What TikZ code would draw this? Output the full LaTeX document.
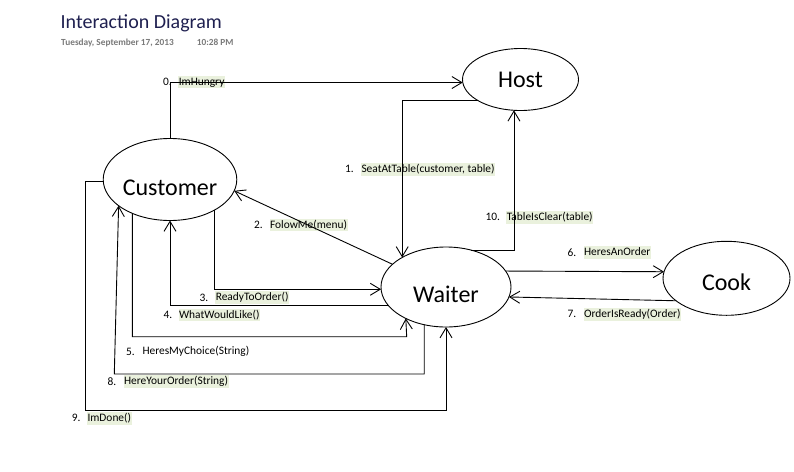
\documentclass[tikz,border=0pt]{standalone}
\usepackage{fontspec}
\setmainfont{Carlito}
\usetikzlibrary{shapes.geometric,arrows.meta}
\definecolor{hl}{HTML}{EAF1DD}
\definecolor{titlec}{HTML}{1F2050}
\definecolor{datec}{HTML}{7A7A7A}
\tikzset{
  actor/.style={ellipse,draw,line width=0.9pt,inner sep=0pt,outer sep=0pt,font=\fontsize{24}{28}\selectfont},
  conn/.style={line width=0.9pt,-{Straight Barb[length=10pt,width=12pt,line width=0.9pt]}},
  msg/.style={anchor=west,fill=hl,inner xsep=0.6pt,inner ysep=0.8pt,text height=8.6pt,text depth=2.6pt,font=\fontsize{11.4}{13}\selectfont},
  msgplain/.style={msg,fill=none},
  num/.style={anchor=west,inner sep=0pt,font=\fontsize{11.4}{13}\selectfont}
}
\begin{document}
\begin{tikzpicture}[x=1pt,y=-1pt]
\useasboundingbox[fill=white] (0,0) rectangle (794,471);
% title
\node[anchor=base west,inner sep=0pt,text=titlec,font=\fontsize{20}{24}\selectfont] (title) at (60.5,28.3) {Interaction Diagram};
\node[anchor=base west,inner sep=0pt,text=datec,font=\fontsize{9.3}{11}\selectfont\bfseries] (date) at (61,45.5) {Tuesday, September 17, 2013};
\node[anchor=base west,inner sep=0pt,text=datec,font=\fontsize{9.3}{11}\selectfont\bfseries] (time) at (196.7,45.5) {10:28 PM};
% actors
\node[actor,minimum width=116pt,minimum height=62pt] (Host) at (520.5,79.5) {Host};
\node[actor,minimum width=132pt,minimum height=82pt,text height=31.5pt,text depth=0pt] (Customer) at (170,179.5) {Customer};
\node[actor,minimum width=130pt,minimum height=80pt,text height=31.5pt,text depth=0pt] (Waiter) at (446,287) {Waiter};
\node[actor,minimum width=127pt,minimum height=74pt,text height=23.5pt,text depth=0pt] (Cook) at (726.5,278.3) {Cook};
% labels
\node[num] (n0) at (163,82) {0.};
\node[msg] (m0) at (178,82) {ImHungry};
\node[num] (n1) at (345,169.3) {1.};
\node[msg] (m1) at (360.7,169.3) {SeatAtTable(customer, table)};
\node[num] (n2) at (254,225) {2.};
\node[msg] (m2) at (269.3,225) {FolowMe(menu)};
\node[num] (n3) at (199.3,297.7) {3.};
\node[msg] (m3) at (215,297.7) {ReadyToOrder()};
\node[num] (n4) at (163.3,315) {4.};
\node[msg] (m4) at (178.3,315) {WhatWouldLike()};
\node[num] (n5) at (126,351.7) {5.};
\node[msgplain] (m5) at (141.7,351.7) {HeresMyChoice(String)};
\node[num] (n6) at (567.3,252.3) {6.};
\node[msg] (m6) at (583.3,252.3) {HeresAnOrder};
\node[num] (n7) at (567.3,314.3) {7.};
\node[msg] (m7) at (583.3,314.3) {OrderIsReady(Order)};
\node[num] (n8) at (107.3,381.7) {8.};
\node[msg] (m8) at (123.3,381.7) {HereYourOrder(String)};
\node[num] (n9) at (71.7,418.3) {9.};
\node[msg] (m9) at (86.7,418.3) {ImDone()};
\node[num] (n10) at (485.3,217.3) {10.};
\node[msg] (m10) at (506,217.3) {TableIsClear(table)};
% waypoints
\coordinate (c5) at (406.7,336.7);
\coordinate (c8) at (114.3,374);
\coordinate (c9) at (85.7,410);
% connectors
\draw[conn] (Customer.north) |- (Host.183);
\draw[conn] (Host.206.5) -| (Waiter.146.5);
\draw[conn] (Waiter.157.9) -- (Customer.-10);
\draw[conn] (Customer.-35.5) |- (Waiter.182);
\draw[conn] (Waiter.198.7) -| (Customer.south);
\draw[conn] (Customer.222.2) |- (c5) -- (Waiter.218.5);
\draw[conn] (Waiter.15) -- (Cook.174.9);
\draw[conn] (Cook.204.8) -- (Waiter.-9.7);
\draw[conn] (Waiter.240.1) |- (c8) -- (Customer.207);
\draw[conn] (Customer.182) -| (c9) -| (Waiter.south);
\draw[conn] (Waiter.56.3) -| (Host.258.8);
\end{tikzpicture}
\end{document}
